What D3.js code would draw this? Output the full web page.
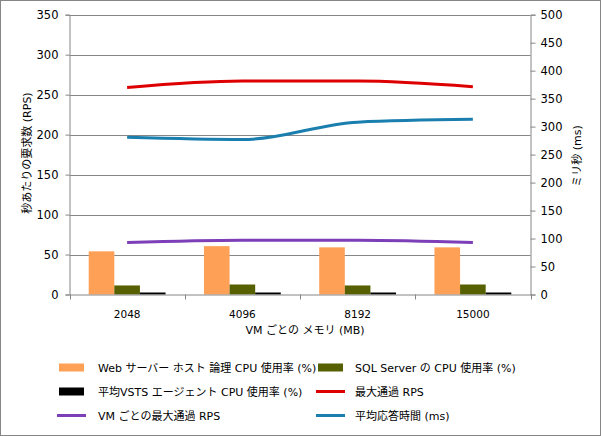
<!DOCTYPE html>
<html><head><meta charset="utf-8">
<script src="https://cdn.jsdelivr.net/npm/d3@7"></script>
<style>
body{margin:0;background:#fff;}
svg{display:block;}
text{font-family:"DejaVu Sans","Noto Sans CJK JP",sans-serif;}
</style></head>
<body>
<script>
const categories = ["2048","4096","8192","15000"];
const webCpu = [54, 60.5, 59, 59];
const sqlCpu = [11.3, 12.5, 11.3, 12.5];
const agentCpu = [2.5, 2.5, 2.5, 2.5];
const maxRps = [259, 267, 267, 260];
const perVmRps = [65, 68, 68, 65];
const avgResp = [281, 277, 308, 313];
const leftTicks = [0,50,100,150,200,250,300,350];
const rightTicks = [0,50,100,150,200,250,300,350,400,450,500];

const W = 601, H = 436;
const L = 69.5, R = 530.5, T = 14.7, B = 294.5;
const svg = d3.select("body").append("svg").attr("width", W).attr("height", H);
svg.append("rect").attr("x",0.5).attr("y",0.5).attr("width",W-1).attr("height",H-1)
  .attr("fill","#fff").attr("stroke","#868686");

const x = d3.scaleBand().domain(categories).range([L, R]).padding(0);
const yL = d3.scaleLinear().domain([0,350]).range([B, T]);
const yR = d3.scaleLinear().domain([0,500]).range([B, T]);
const grey = "#868686";

// gridlines
svg.append("g").selectAll("line").data(leftTicks.filter(d=>d>0)).join("line")
  .attr("x1",L).attr("x2",R).attr("y1",d=>Math.round(yL(d))+0.5).attr("y2",d=>Math.round(yL(d))+0.5)
  .attr("stroke",grey).attr("stroke-width",1);

// left axis
const gl = svg.append("g").attr("transform",`translate(${L},0)`)
  .call(d3.axisLeft(yL).tickValues(leftTicks).tickSize(4).tickPadding(7));
gl.selectAll("line,path").attr("stroke",grey);
gl.selectAll("text").attr("font-size","11.5px").attr("fill","#000")
  .attr("font-family","DejaVu Sans");

// right axis
const gr = svg.append("g").attr("transform",`translate(${R},0)`)
  .call(d3.axisRight(yR).tickValues(rightTicks).tickSize(5).tickPadding(5));
gr.selectAll("line,path").attr("stroke",grey);
gr.selectAll("text").attr("font-size","11.5px").attr("fill","#000")
  .attr("font-family","DejaVu Sans");

// bars
const bw = x.bandwidth()/4.5;
const series = [
  {vals: webCpu, color:"#ffa057"},
  {vals: sqlCpu, color:"#566000"},
  {vals: agentCpu, color:"#000000"}
];
series.forEach((s,i)=>{
  svg.append("g").selectAll("rect").data(categories).join("rect")
    .attr("x",(c)=>x(c)+0.75*bw+i*bw).attr("width",bw)
    .attr("y",(c,j)=>yL(s.vals[j])).attr("height",(c,j)=>B-yL(s.vals[j]))
    .attr("fill",s.color);
});

// x axis
const gx = svg.append("g").attr("transform",`translate(0,${B})`)
  .call(d3.axisBottom(x).tickSize(0).tickPadding(16));
gx.select("path").attr("stroke",grey);
gx.selectAll("text").attr("font-size","10.5px").attr("fill","#000").attr("font-family","DejaVu Sans");
svg.append("g").selectAll("line").data(categories.concat(["end"])).join("line")
  .attr("x1",(c,i)=>Math.round(L + i*x.bandwidth())+0.5).attr("x2",(c,i)=>Math.round(L + i*x.bandwidth())+0.5)
  .attr("y1",B).attr("y2",B+5).attr("stroke",grey);

// lines
const cx = c => x(c) + x.bandwidth()/2;
function drawLine(vals, scale, color){
  const line = d3.line().x((d,i)=>cx(categories[i])).y(d=>scale(d)).curve(d3.curveMonotoneX);
  svg.append("path").datum(vals).attr("d",line).attr("fill","none")
    .attr("stroke",color).attr("stroke-width",3).attr("stroke-linejoin","round");
}
drawLine(perVmRps, yL, "#7d3fb8");
drawLine(maxRps, yL, "#de0000");
drawLine(avgResp, yR, "#1a7fae");

// axis titles
const tf = "'Liberation Sans','Noto Sans CJK JP',sans-serif";
svg.append("text").attr("transform",`translate(31,153) rotate(-90)`).attr("text-anchor","middle")
  .attr("font-size","11px").attr("font-family",tf).text("秒あたりの要求数 (RPS)");
svg.append("text").attr("transform",`translate(581,156) rotate(-90)`).attr("text-anchor","middle")
  .attr("font-size","11px").attr("font-family",tf).text("ミリ秒 (ms)");
svg.append("text").attr("x",305).attr("y",334).attr("text-anchor","middle")
  .attr("font-size","11px").attr("font-family",tf).text("VM ごとの メモリ (MB)");

// legend
const legend = [
  {label:"Web サーバー ホスト 論理 CPU 使用率 (%)", color:"#ffa057", type:"bar", col:0, row:0},
  {label:"SQL Server の CPU 使用率 (%)", color:"#566000", type:"bar", col:1, row:0},
  {label:"平均VSTS エージェント CPU 使用率 (%)", color:"#000000", type:"bar", col:0, row:1},
  {label:"最大通過 RPS", color:"#de0000", type:"line", col:1, row:1},
  {label:"VM ごとの最大通過 RPS", color:"#7d3fb8", type:"line", col:0, row:2},
  {label:"平均応答時間 (ms)", color:"#1a7fae", type:"line", col:1, row:2}
];
const colX = [59, 318], textX = [98, 355], rowY = [367.5, 391.5, 415.5];
const lg = svg.append("g");
legend.forEach(d=>{
  const sx = colX[d.col], sy = rowY[d.row];
  if(d.type==="bar"){
    lg.append("rect").attr("x",sx).attr("y",sy-4).attr("width",25).attr("height",8).attr("fill",d.color);
  } else {
    lg.append("line").attr("x1",sx-2).attr("x2",sx+27).attr("y1",sy).attr("y2",sy)
      .attr("stroke",d.color).attr("stroke-width",3);
  }
  lg.append("text").attr("x",textX[d.col]).attr("y",sy+4).attr("font-size","11px")
    .attr("font-family",tf).text(d.label);
});
</script>
</body></html>
